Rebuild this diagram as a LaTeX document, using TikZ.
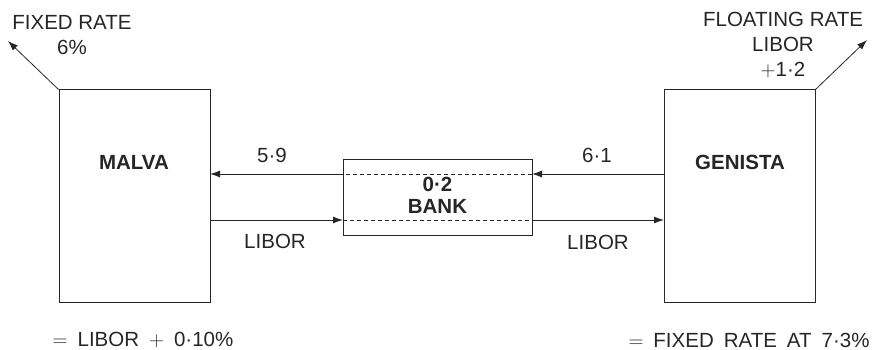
\documentclass[tikz,border=0pt]{standalone}
\usepackage{fontspec}
\setmainfont{Liberation Sans}
\usetikzlibrary{arrows.meta}
\definecolor{ink}{HTML}{262626}
\newcommand{\gapsp}{\hspace{10pt}}
\begin{document}
\begin{tikzpicture}[x=1pt,y=-1pt,
  every node/.style={inner sep=0pt,text=ink,font=\fontsize{20.5}{25}\selectfont},
  party/.style={draw=ink,line width=1pt},
  flow/.style={draw=ink,line width=1pt,-{Latex[length=10pt,width=7pt]}},
  thru/.style={draw=ink,line width=0.8pt,dashed,dash pattern=on 4pt off 3pt},
  boldlbl/.style={font=\fontsize{20.5}{22}\selectfont\bfseries,align=center},
  lbl/.style={align=center}]
  \useasboundingbox (0,0) rectangle (875,350);

  % the two counterparties and the bank
  \node[party,minimum width=151pt,minimum height=212pt] (malva) at (134.5,196) {};
  \node[party,minimum width=151pt,minimum height=212pt] (genista) at (739.5,196) {};
  \node[party,minimum width=189pt,minimum height=76pt] (bank) at (437.5,197) {};

  \node[boldlbl] (mname) at (134,162) {MALVA};
  \node[boldlbl] (gname) at (740,162) {GENISTA};
  \node[boldlbl] (bname) at (437.5,195) {0·2\\BANK};

  % anchor points on box edges
  \coordinate (gU) at (664,174);
  \coordinate (bRU) at (532,174);
  \coordinate (bLU) at (343,174);
  \coordinate (mU) at (210,174);
  \coordinate (mL) at (210,220);
  \coordinate (bLL) at (343,220);
  \coordinate (bRL) at (532,220);
  \coordinate (gL) at (664,220);

  % fixed leg: GENISTA -> bank -> MALVA
  \draw[flow] (gU) -- (bRU);
  \draw[thru] (bRU) -- (bLU);
  \draw[flow] (bLU) -- (mU);
  % floating leg: MALVA -> bank -> GENISTA
  \draw[flow] (mL) -- (bLL);
  \draw[thru] (bLL) -- (bRL);
  \draw[flow] (bRL) -- (gL);

  \node (r59) at (272,155) {5·9};
  \node (r61) at (597,155) {6·1};
  \node (lib1) at (275,241) {LIBOR};
  \node (lib2) at (598,242) {LIBOR};

  % outside market legs
  \coordinate (tipL) at (8,41);
  \coordinate (tipR) at (867,40);
  \draw[flow,line width=0.8pt] (malva.north west) -- (tipL);
  \draw[flow,line width=0.8pt] (genista.north east) -- (tipR);

  \node[lbl] (fixed) at (72,35) {FIXED RATE\\6\%};
  \node[lbl] (float) at (783,45) {FLOATING RATE\\LIBOR\\$+$1·2};

  \node (netM) at (143,340) {$=$\gapsp LIBOR\gapsp $+$\gapsp 0·10\%};
  \node (netG) at (749,340) {$=$\gapsp FIXED\gapsp RATE\gapsp AT\gapsp 7·3\%};
\end{tikzpicture}
\end{document}
